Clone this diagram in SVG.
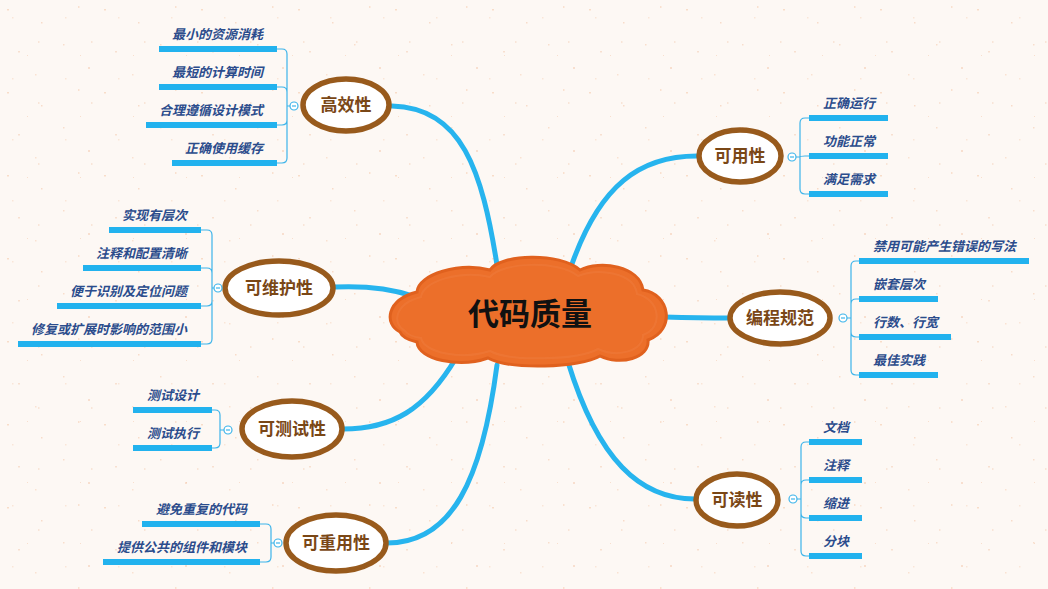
<svg xmlns="http://www.w3.org/2000/svg" width="1048" height="589" viewBox="0 0 1048 589">
<defs>
<pattern id="speckA" width="97" height="83" patternUnits="userSpaceOnUse">
<rect x="7" y="9" width="2" height="1.5" fill="#F4C6A6" opacity="0.55"/>
<rect x="41" y="22" width="1.5" height="1.5" fill="#F2C0A0" opacity="0.5"/>
<rect x="78" y="6" width="1.5" height="2" fill="#F5CDB2" opacity="0.55"/>
<rect x="18" y="51" width="2" height="1.5" fill="#F3C4A5" opacity="0.45"/>
<rect x="63" y="44" width="1.5" height="1.5" fill="#F4C8AA" opacity="0.55"/>
<rect x="88" y="67" width="2" height="2" fill="#F2C2A2" opacity="0.45"/>
<rect x="35" y="74" width="1.5" height="1.5" fill="#F5CCB0" opacity="0.5"/>
</pattern>
<pattern id="speckB" width="53" height="61" patternUnits="userSpaceOnUse">
<rect x="12" y="17" width="1.5" height="1.5" fill="#F6D3BC" opacity="0.5"/>
<rect x="38" y="41" width="1.5" height="2" fill="#F5CFB6" opacity="0.45"/>
<rect x="27" y="55" width="1" height="1" fill="#F3C6A8" opacity="0.5"/>
</pattern>
<style>
.conn{fill:none;stroke:#27B4EE;stroke-width:5;stroke-linecap:round}
.topic{fill:#FFFFFF;stroke:#985A1C;stroke-width:5.5}
.tt{font-family:"Noto Sans CJK SC","Noto Sans",sans-serif;font-size:17px;font-weight:bold;fill:#7A4716;text-anchor:middle}
.st{font-family:"Noto Sans CJK SC","Noto Sans",sans-serif;font-size:13px;font-style:italic;font-weight:bold;fill:#2B4C8C}
.sl{text-anchor:end}
.bar{fill:#22B2EE}
.br{fill:none;stroke:#3DB4EA;stroke-width:1.2}
.col{fill:#FFFFFF;stroke:#3DB4EA;stroke-width:1.2}
</style>
</defs>
<rect width="1048" height="589" fill="#FDF8F4"/>
<rect width="1048" height="589" fill="url(#speckA)"/>
<rect width="1048" height="589" fill="url(#speckB)"/>

<g id="connectors">
<path class="conn" d="M497 265 C482 170 462 108 392 106"/>
<path class="conn" d="M572 264 C600 185 640 156 697 156"/>
<path class="conn" d="M664 317 Q700 318 729 318"/>
<path class="conn" d="M413 296 Q380 285 335 287"/>
<path class="conn" d="M456 358 C425 410 392 429 343 429"/>
<path class="conn" d="M568 362 C598 460 640 499 695 499"/>
<path class="conn" d="M497 365 C482 480 452 543 387 543"/>
</g>

<g id="center">
<path d="M400 332 C384 324 386 300 417 292 C418 274 460 262 490 270 C500 254 560 252 580 270 C600 260 640 266 643 290 C670 294 676 330 648 340 C650 358 620 366 600 356 C580 368 510 370 488 358 C460 368 418 360 417 342 C408 340 402 337 400 332 Z" fill="#EC6F2A" stroke="#E0611E" stroke-width="3"/>
<path d="M405 331 C392 324 394 304 421 297 C423 281 460 270 490 277 C502 262 558 260 578 276 C598 268 634 272 637 294 C660 299 664 328 643 335 C643 351 618 358 598 349 C578 360 510 362 490 351 C462 360 424 353 421 338 C413 337 408 335 405 331 Z" fill="none" stroke="#EE7A3A" stroke-width="2" opacity="0.6"/>
<text x="530" y="325" font-family="Noto Sans CJK SC,Noto Sans,sans-serif" font-size="31" font-weight="bold" fill="#111111" text-anchor="middle">代码质量</text>
</g>

<g id="topic-gaoxiao">
<ellipse class="topic" cx="346" cy="105" rx="43" ry="26"/>
<text class="tt" x="346" y="111">高效性</text>
<circle class="col" cx="294" cy="106" r="4"/><path class="br" d="M292 106 H296"/>
<path class="br" d="M290 106 H287 M287 106 V54 Q287 49 282 49 H277 M287 106 V92 Q287 87 282 87 H277 M287 106 V120 Q287 125 282 125 H277 M287 106 V158 Q287 163 282 163 H277"/>
<rect class="bar" x="159" y="46" width="118" height="6"/>
<rect class="bar" x="159" y="84" width="118" height="6"/>
<rect class="bar" x="146" y="122" width="131" height="6"/>
<rect class="bar" x="172" y="160" width="105" height="6"/>
<text class="st sl" x="263" y="39">最小的资源消耗</text>
<text class="st sl" x="263" y="77">最短的计算时间</text>
<text class="st sl" x="263" y="115">合理遵循设计模式</text>
<text class="st sl" x="263" y="153">正确使用缓存</text>
</g>

<g id="topic-keyong">
<ellipse class="topic" cx="740" cy="156" rx="41" ry="26"/>
<text class="tt" x="740" y="162">可用性</text>
<circle class="col" cx="792" cy="157" r="4"/><path class="br" d="M790 157 H794"/>
<path class="br" d="M796 157 H800 M800 157 V123 Q800 118 805 118 H809 M800 157 V189 Q800 194 805 194 H809 M800 157 Q800 156 805 156 H809"/>
<rect class="bar" x="809" y="115" width="79" height="6"/>
<rect class="bar" x="809" y="153" width="79" height="6"/>
<rect class="bar" x="809" y="191" width="79" height="6"/>
<text class="st" x="823" y="108">正确运行</text>
<text class="st" x="823" y="146">功能正常</text>
<text class="st" x="823" y="184">满足需求</text>
</g>

<g id="topic-biancheng">
<ellipse class="topic" cx="780" cy="318" rx="50" ry="26"/>
<text class="tt" x="780" y="324">编程规范</text>
<circle class="col" cx="843" cy="318" r="4"/><path class="br" d="M841 318 H845"/>
<path class="br" d="M847 318 H851 M851 318 V266 Q851 261 856 261 H859 M851 318 V304 Q851 299 856 299 H859 M851 318 V332 Q851 337 856 337 H859 M851 318 V370 Q851 375 856 375 H859"/>
<rect class="bar" x="859" y="258" width="170" height="6"/>
<rect class="bar" x="859" y="296" width="79" height="6"/>
<rect class="bar" x="859" y="334" width="92" height="6"/>
<rect class="bar" x="859" y="372" width="79" height="6"/>
<text class="st" x="873" y="251">禁用可能产生错误的写法</text>
<text class="st" x="873" y="289">嵌套层次</text>
<text class="st" x="873" y="327">行数、行宽</text>
<text class="st" x="873" y="365">最佳实践</text>
</g>

<g id="topic-weihu">
<ellipse class="topic" cx="279" cy="288" rx="54" ry="27"/>
<text class="tt" x="279" y="294">可维护性</text>
<circle class="col" cx="218" cy="288" r="4"/><path class="br" d="M216 288 H220"/>
<path class="br" d="M214 288 H212 M212 288 V235 Q212 230 207 230 H201 M212 288 V273 Q212 268 207 268 H201 M212 288 V301 Q212 306 207 306 H201 M212 288 V339 Q212 344 207 344 H201"/>
<rect class="bar" x="109" y="227" width="92" height="6"/>
<rect class="bar" x="83" y="265" width="118" height="6"/>
<rect class="bar" x="57" y="303" width="144" height="6"/>
<rect class="bar" x="18" y="341" width="183" height="6"/>
<text class="st sl" x="187" y="220">实现有层次</text>
<text class="st sl" x="187" y="258">注释和配置清晰</text>
<text class="st sl" x="187" y="296">便于识别及定位问题</text>
<text class="st sl" x="187" y="334">修复或扩展时影响的范围小</text>
</g>

<g id="topic-ceshi">
<ellipse class="topic" cx="292" cy="429" rx="50" ry="28"/>
<text class="tt" x="292" y="435">可测试性</text>
<circle class="col" cx="228" cy="430" r="4"/><path class="br" d="M226 430 H230"/>
<path class="br" d="M224 430 H220 M220 430 V415 Q220 410 215 410 H212 M220 430 V443 Q220 448 215 448 H212"/>
<rect class="bar" x="133" y="407" width="79" height="6"/>
<rect class="bar" x="133" y="445" width="79" height="6"/>
<text class="st sl" x="199" y="400">测试设计</text>
<text class="st sl" x="199" y="438">测试执行</text>
</g>

<g id="topic-kedu">
<ellipse class="topic" cx="737" cy="500" rx="41" ry="26"/>
<text class="tt" x="737" y="506">可读性</text>
<circle class="col" cx="793" cy="499" r="4"/><path class="br" d="M791 499 H795"/>
<path class="br" d="M797 499 H801 M801 499 V447 Q801 442 806 442 H809 M801 499 V485 Q801 480 806 480 H809 M801 499 V513 Q801 518 806 518 H809 M801 499 V551 Q801 556 806 556 H809"/>
<rect class="bar" x="809" y="439" width="53" height="6"/>
<rect class="bar" x="809" y="477" width="53" height="6"/>
<rect class="bar" x="809" y="515" width="53" height="6"/>
<rect class="bar" x="809" y="553" width="53" height="6"/>
<text class="st" x="823" y="432">文档</text>
<text class="st" x="823" y="470">注释</text>
<text class="st" x="823" y="508">缩进</text>
<text class="st" x="823" y="546">分块</text>
</g>

<g id="topic-chongyong">
<ellipse class="topic" cx="336" cy="543" rx="50" ry="28"/>
<text class="tt" x="336" y="549">可重用性</text>
<circle class="col" cx="278" cy="543" r="4"/><path class="br" d="M276 543 H280"/>
<path class="br" d="M274 543 H271 M271 543 V529 Q271 524 266 524 H260 M271 543 V557 Q271 562 266 562 H260"/>
<rect class="bar" x="142" y="521" width="118" height="6"/>
<rect class="bar" x="103" y="559" width="157" height="6"/>
<text class="st sl" x="247" y="514">避免重复的代码</text>
<text class="st sl" x="247" y="552">提供公共的组件和模块</text>
</g>
</svg>
